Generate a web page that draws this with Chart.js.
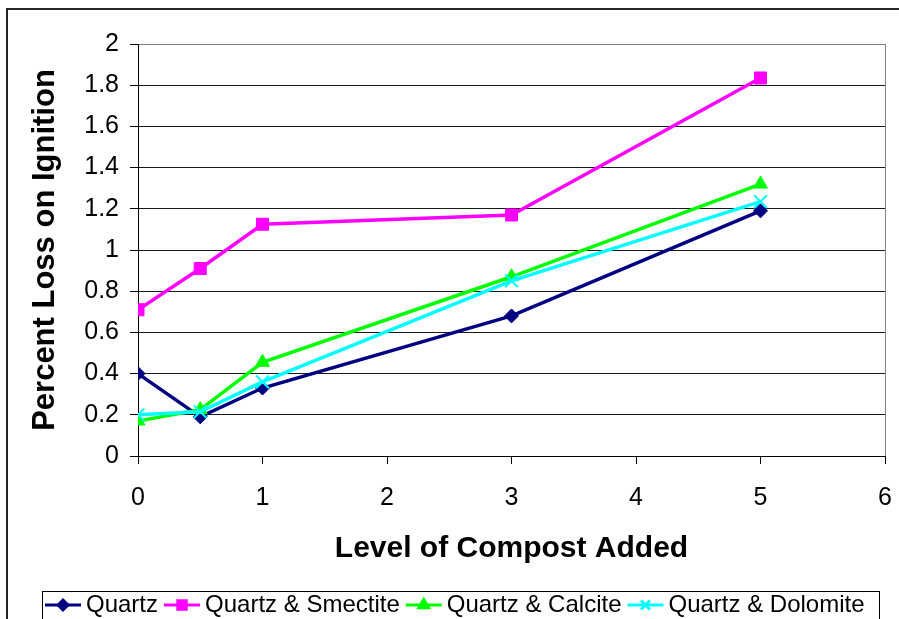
<!DOCTYPE html>
<html>
<head>
<meta charset="utf-8">
<script src="https://cdn.jsdelivr.net/npm/chart.js@4"></script>
<style>
  html, body { margin: 0; padding: 0; background: #fff; }
  #wrap { width: 899px; height: 619px; position: relative; }
</style>
</head>
<body>
<div id="wrap"><canvas id="lossChart" width="899" height="619"></canvas></div>
<script>
const compostLevels = [0, 0.5, 1, 3, 5];
const quartz = [0.40, 0.19, 0.33, 0.68, 1.19];
const quartzSmectite = [0.71, 0.91, 1.125, 1.17, 1.835];
const quartzCalcite = [0.17, 0.225, 0.455, 0.87, 1.32];
const quartzDolomite = [0.20, 0.215, 0.36, 0.85, 1.235];
const seriesNames = ['Quartz', 'Quartz & Smectite', 'Quartz & Calcite', 'Quartz & Dolomite'];
const xTicks = [0, 1, 2, 3, 4, 5, 6];
const yTicks = [0, 0.2, 0.4, 0.6, 0.8, 1, 1.2, 1.4, 1.6, 1.8, 2];

const FONT = "'Liberation Sans', Arial, sans-serif";

function toPoints(values) {
    return compostLevels.map((x, i) => ({ x: x, y: values[i] }));
}

function series(label, values, color, style, radius, order) {
    return {
        label: label,
        data: toPoints(values),
        borderColor: color,
        backgroundColor: color,
        pointBackgroundColor: color,
        pointBorderColor: color,
        pointStyle: style,
        pointRadius: radius,
        pointHoverRadius: radius,
        pointBorderWidth: style === 'crossRot' ? 2 : 1,
        borderWidth: 3.5,
        showLine: true,
        tension: 0,
        order: order
    };
}

// outer chart frame, like the excel chart area border
const framePlugin = {
    id: 'frame',
    beforeDraw(chart) {
        const ctx = chart.ctx;
        ctx.save();
        ctx.fillStyle = '#fff';
        ctx.fillRect(0, 0, chart.width, chart.height);
        ctx.strokeStyle = '#262626';
        ctx.lineWidth = 2;
        ctx.strokeRect(7, 9, chart.width + 20, chart.height + 20);
        ctx.restore();
    }
};

// legend drawn as a boxed row under the chart
const boxLegend = {
    id: 'boxLegend',
    afterDraw(chart) {
        const ctx = chart.ctx;
        const cy = 605;
        ctx.save();
        ctx.fillStyle = '#fff';
        ctx.fillRect(42, 591, 837, 40);
        ctx.strokeStyle = '#000';
        ctx.lineWidth = 1;
        ctx.strokeRect(42.5, 591.5, 837, 40);
        ctx.font = '24px ' + FONT;
        ctx.textBaseline = 'middle';
        let x = 45;
        chart.data.datasets.forEach(ds => {
            ctx.strokeStyle = ds.borderColor;
            ctx.lineWidth = 3;
            ctx.beginPath();
            ctx.moveTo(x, cy);
            ctx.lineTo(x + 36, cy);
            ctx.stroke();
            ctx.fillStyle = ds.backgroundColor;
            Chart.helpers.drawPoint(ctx, {
                pointStyle: ds.pointStyle,
                radius: ds.pointRadius * 0.7,
                borderWidth: ds.pointBorderWidth,
                rotation: 0
            }, x + 18, cy);
            ctx.fillStyle = '#000';
            ctx.fillText(ds.label, x + 41, cy);
            x += 41 + ctx.measureText(ds.label).width + 6;
        });
        ctx.restore();
    }
};

document.addEventListener("DOMContentLoaded", function() {
    const ctx = document.getElementById('lossChart').getContext('2d');
    const lossChart = new Chart(ctx, {
        type: 'scatter',
        data: {
            datasets: [
                series(seriesNames[0], quartz, '#000080', 'rectRot', 7, 4),
                series(seriesNames[1], quartzSmectite, '#ff00ff', 'rect', 8.5, 3),
                series(seriesNames[2], quartzCalcite, '#00ff00', 'triangle', 8, 2),
                series(seriesNames[3], quartzDolomite, '#00ffff', 'crossRot', 9, 1)
            ]
        },
        options: {
            responsive: false,
            animation: false,
            devicePixelRatio: 1,
            layout: { padding: { top: 44, right: 14, left: 0, bottom: 50 } },
            plugins: {
                legend: { display: false },
                tooltip: { enabled: false }
            },
            scales: {
                x: {
                    type: 'linear',
                    min: 0,
                    max: 6,
                    afterBuildTicks: scale => { scale.ticks = xTicks.map(v => ({ value: v })); },
                    afterFit: scale => {
                        scale.height = 113;
                        scale.paddingLeft = 0;
                        scale.paddingRight = 0;
                    },
                    ticks: {
                        color: '#000',
                        font: { family: FONT, size: 25 },
                        padding: 19,
                        callback: v => String(v)
                    },
                    grid: {
                        drawOnChartArea: true,
                        color: ctx => ctx.tick && ctx.tick.value === 6 ? '#808080' : 'rgba(0,0,0,0)',
                        tickColor: '#000',
                        tickLength: 8
                    },
                    border: { color: '#000', width: 1 },
                    title: {
                        display: true,
                        text: 'Level of Compost Added',
                        color: '#000',
                        font: { family: FONT, size: 30, weight: 'bold', lineHeight: 1.2 },
                        padding: { top: 0, bottom: 2 }
                    }
                },
                y: {
                    min: 0,
                    max: 2,
                    afterBuildTicks: scale => { scale.ticks = yTicks.map(v => ({ value: v })); },
                    afterFit: scale => {
                        scale.width = 138;
                        scale.paddingTop = 0;
                        scale.paddingBottom = 0;
                    },
                    ticks: {
                        color: '#000',
                        font: { family: FONT, size: 25 },
                        padding: 11,
                        callback: v => String(Math.round(v * 10) / 10)
                    },
                    grid: {
                        color: ctx => ctx.tick && ctx.tick.value === 2 ? '#808080' : '#1a1a1a',
                        tickColor: '#000',
                        tickLength: 8
                    },
                    border: { color: '#000', width: 1 },
                    title: {
                        display: true,
                        text: 'Percent Loss on Ignition',
                        color: '#000',
                        font: { family: FONT, size: 31, weight: 'bold', lineHeight: 1.2 },
                        padding: { top: 27, bottom: 0 }
                    }
                }
            }
        },
        plugins: [framePlugin, boxLegend]
    });
});
</script>
</body>
</html>
